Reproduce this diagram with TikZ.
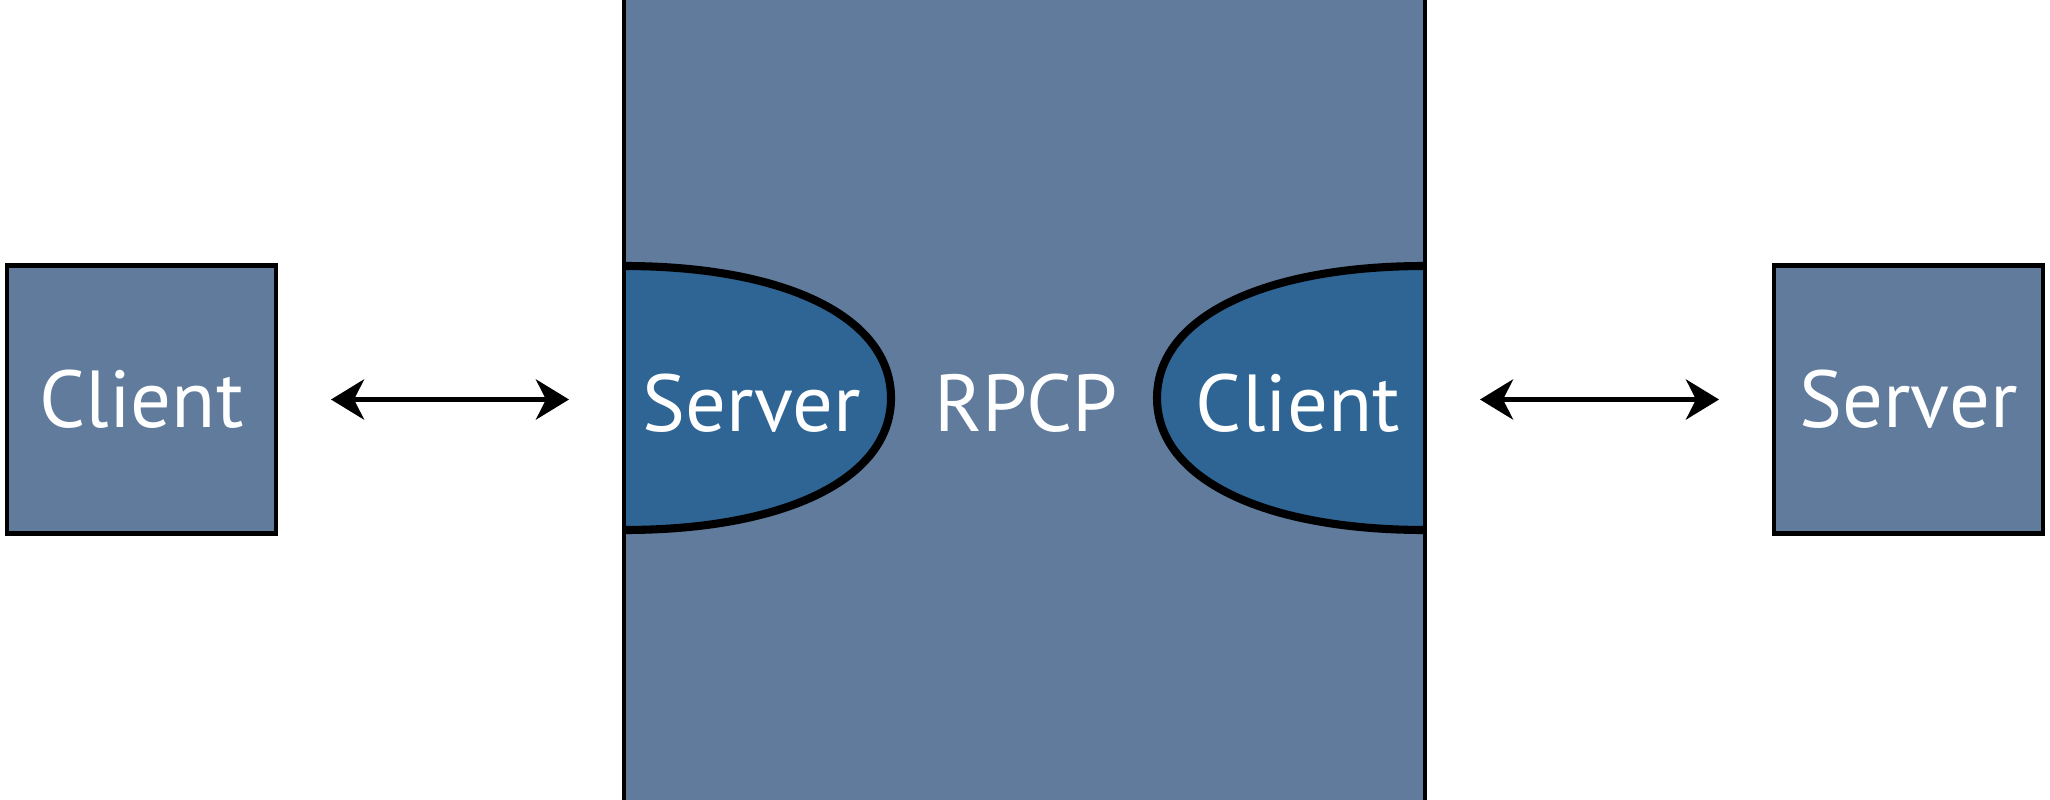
\documentclass[tikz,border=0pt]{standalone}
\usepackage{fontspec}
\setmainfont{PT Sans}
\usetikzlibrary{positioning, arrows.meta}
\definecolor{slate}{RGB}{96,123,156}
\definecolor{lobeblue}{RGB}{46,101,148}
\tikzset{
	peer/.style={
		draw,
		fill=slate,
		line width=1.4pt,
		outer sep=0pt,
		minimum width=2.69cm,
		minimum height=2.68cm,
		inner sep=0pt
	},
	tag/.style={
		text=white,
		font=\fontsize{23}{27}\selectfont
	},
	lobe/.style={
		draw,
		fill=lobeblue,
		line width=2.3pt
	},
	link/.style={
		{Stealth[length=3.3mm,width=4mm,inset=1mm]}-{Stealth[length=3.3mm,width=4mm,inset=1mm]},
		line width=1.5pt,
		shorten <=0.55cm,
		shorten >=0.55cm
	}
}

\begin{document}
\begin{tikzpicture}
	\useasboundingbox (0,0) rectangle (20.5,7.99);
	\clip (0,0) rectangle (20.5,7.99);

	% the proxy in the middle runs off the page
	\node[peer, draw=none, minimum width=8.01cm, minimum height=9cm] (hub) at (10.245,3.995) {};

	\node[peer, tag, left=3.48cm of hub] (client) {Client};
	\node[peer, tag, right=3.49cm of hub] (server) {Server};

	% the two halves of the proxy
	\filldraw[lobe] (6.24,5.33) .. controls (7.85,5.33) and (8.91,4.82) .. (8.91,4.01)
		.. controls (8.91,3.2) and (7.85,2.69) .. (6.24,2.69);
	\filldraw[lobe] (14.25,5.33) .. controls (12.64,5.33) and (11.57,4.82) .. (11.57,4.01)
		.. controls (11.57,3.2) and (12.64,2.69) .. (14.25,2.69);

	\draw[line width=1.1pt] (hub.north west) -- (hub.south west)
		(hub.north east) -- (hub.south east);

	\node[tag, anchor=base] (srvtag) at (7.52,3.68) {Server};
	\node[tag, anchor=base] (rpcptag) at (10.26,3.68) {RPCP};
	\node[tag, anchor=base] (clitag) at (12.98,3.68) {Client};

	% links to the outside
	\draw[link] (client) -- (hub);
	\draw[link] (hub) -- (server);
\end{tikzpicture}
\end{document}
